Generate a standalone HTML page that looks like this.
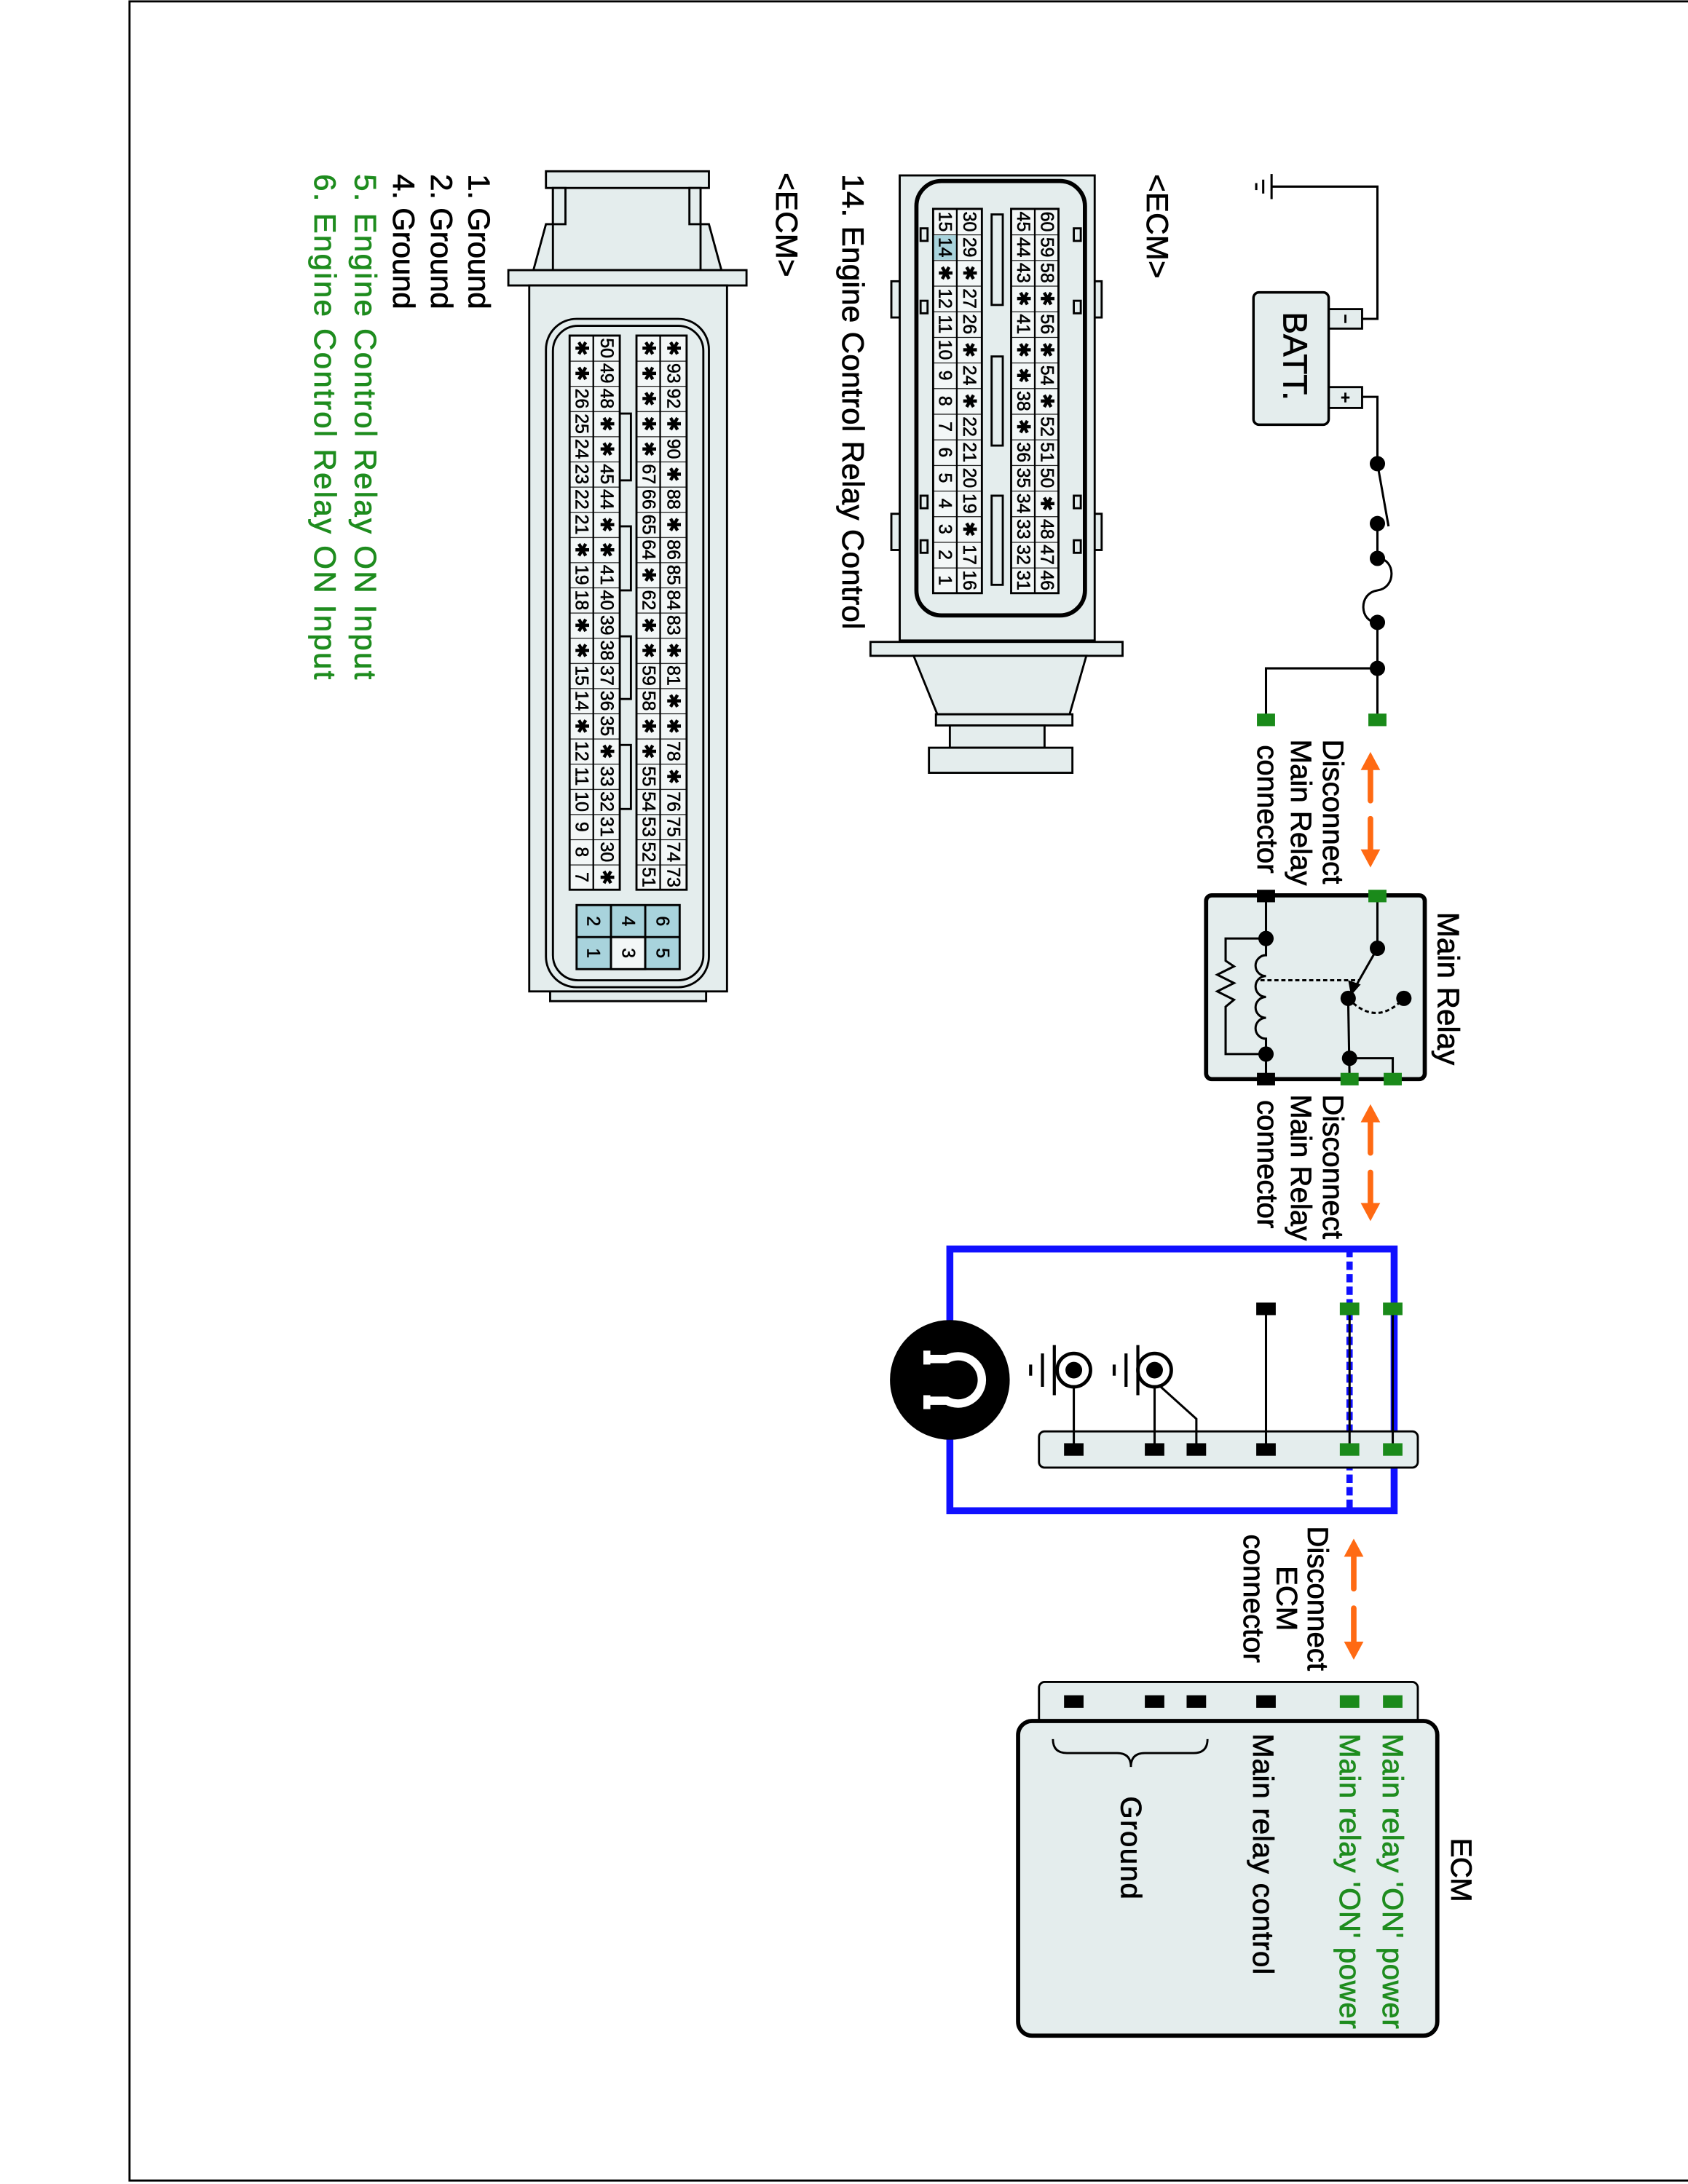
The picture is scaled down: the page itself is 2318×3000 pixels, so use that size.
<!DOCTYPE html>
<html><head><meta charset="utf-8"><style>html,body{margin:0;padding:0;background:#fff}svg{display:block}</style></head>
<body>
<svg xmlns="http://www.w3.org/2000/svg" width="2318" height="3000" viewBox="0 0 1212 1568.5" preserveAspectRatio="none" font-family="'Liberation Sans', Arial, sans-serif">
<defs>
<pattern id="p1" x="0" y="150" width="20" height="18.4" patternUnits="userSpaceOnUse"><rect width="20" height="18.4" fill="#f3f7f7"/><line x1="0" y1="0" x2="20" y2="0" stroke="#000" stroke-width="1.2"/></pattern>
<pattern id="p2" x="0" y="241" width="20" height="18.09" patternUnits="userSpaceOnUse"><rect width="20" height="18.09" fill="#f3f7f7"/><line x1="0" y1="0" x2="20" y2="0" stroke="#000" stroke-width="1.2"/></pattern>
</defs>
<rect x="93" y="1" width="1130" height="1565" fill="none" stroke="#000" stroke-width="1.5"/>

<!-- ===== Connector 1 (top) ===== -->
<g stroke="#000" stroke-width="1.5" fill="#e4eded">
<rect x="640" y="202" width="8" height="26"/><rect x="640" y="369" width="8" height="26"/>
<rect x="784" y="202" width="7" height="26"/><rect x="784" y="369" width="7" height="26"/>
<rect x="646" y="126" width="140" height="334"/>
<rect x="625" y="461" width="181" height="10"/>
<polygon points="656,471 780,471 768,513 673,513"/>
<rect x="672" y="513" width="98" height="8"/>
<rect x="682" y="521" width="68" height="16"/>
<rect x="667" y="537" width="103" height="18"/>
<rect x="658" y="130" width="121" height="312" rx="18" stroke-width="3"/>
<rect x="661" y="164" width="5" height="9"/><rect x="661" y="216" width="5" height="9"/><rect x="661" y="356" width="5" height="9"/><rect x="661" y="388" width="5" height="9"/>
<rect x="771" y="164" width="5" height="9"/><rect x="771" y="216" width="5" height="9"/><rect x="771" y="356" width="5" height="9"/><rect x="771" y="388" width="5" height="9"/>
<rect x="712" y="154" width="8" height="65"/><rect x="712" y="256" width="8" height="64"/><rect x="712" y="356" width="8" height="64"/>
</g>
<rect x="670" y="150" width="35" height="276" fill="url(#p1)" stroke="#000" stroke-width="1.5"/>
<rect x="726" y="150" width="34" height="276" fill="url(#p1)" stroke="#000" stroke-width="1.5"/>
<rect x="670.7" y="169" width="16" height="17.6" fill="#a8d3dc"/>
<line x1="687" y1="150" x2="687" y2="426" stroke="#000" stroke-width="1.2"/>
<line x1="743" y1="150" x2="743" y2="426" stroke="#000" stroke-width="1.2"/>
<g font-size="13" text-anchor="middle" dominant-baseline="central" fill="#000" stroke="#000" stroke-width="0.3">
<text transform="translate(678.5,0) rotate(90)"><tspan x="159.2" y="0">15</tspan><tspan x="177.6" y="0">14</tspan><tspan x="196" y="0">✱</tspan><tspan x="214.4" y="0">12</tspan><tspan x="232.8" y="0">11</tspan><tspan x="251.2" y="0">10</tspan><tspan x="269.6" y="0">9</tspan><tspan x="288" y="0">8</tspan><tspan x="306.4" y="0">7</tspan><tspan x="324.8" y="0">6</tspan><tspan x="343.2" y="0">5</tspan><tspan x="361.6" y="0">4</tspan><tspan x="380" y="0">3</tspan><tspan x="398.4" y="0">2</tspan><tspan x="416.8" y="0">1</tspan></text>
<text transform="translate(696,0) rotate(90)"><tspan x="159.2" y="0">30</tspan><tspan x="177.6" y="0">29</tspan><tspan x="196" y="0">✱</tspan><tspan x="214.4" y="0">27</tspan><tspan x="232.8" y="0">26</tspan><tspan x="251.2" y="0">✱</tspan><tspan x="269.6" y="0">24</tspan><tspan x="288" y="0">✱</tspan><tspan x="306.4" y="0">22</tspan><tspan x="324.8" y="0">21</tspan><tspan x="343.2" y="0">20</tspan><tspan x="361.6" y="0">19</tspan><tspan x="380" y="0">✱</tspan><tspan x="398.4" y="0">17</tspan><tspan x="416.8" y="0">16</tspan></text>
<text transform="translate(734.5,0) rotate(90)"><tspan x="159.2" y="0">45</tspan><tspan x="177.6" y="0">44</tspan><tspan x="196" y="0">43</tspan><tspan x="214.4" y="0">✱</tspan><tspan x="232.8" y="0">41</tspan><tspan x="251.2" y="0">✱</tspan><tspan x="269.6" y="0">✱</tspan><tspan x="288" y="0">38</tspan><tspan x="306.4" y="0">✱</tspan><tspan x="324.8" y="0">36</tspan><tspan x="343.2" y="0">35</tspan><tspan x="361.6" y="0">34</tspan><tspan x="380" y="0">33</tspan><tspan x="398.4" y="0">32</tspan><tspan x="416.8" y="0">31</tspan></text>
<text transform="translate(751.5,0) rotate(90)"><tspan x="159.2" y="0">60</tspan><tspan x="177.6" y="0">59</tspan><tspan x="196" y="0">58</tspan><tspan x="214.4" y="0">✱</tspan><tspan x="232.8" y="0">56</tspan><tspan x="251.2" y="0">✱</tspan><tspan x="269.6" y="0">54</tspan><tspan x="288" y="0">✱</tspan><tspan x="306.4" y="0">52</tspan><tspan x="324.8" y="0">51</tspan><tspan x="343.2" y="0">50</tspan><tspan x="361.6" y="0">✱</tspan><tspan x="380" y="0">48</tspan><tspan x="398.4" y="0">47</tspan><tspan x="416.8" y="0">46</tspan></text>
</g>

<!-- ===== Connector 2 (bottom-left) ===== -->
<g stroke="#000" stroke-width="1.5" fill="#e4eded">
<polygon points="383,194 392,161 401,161 401,194"/>
<polygon points="518,194 509,161 500,161 500,194"/>
<rect x="397" y="134" width="106" height="60"/>
<rect x="392" y="123" width="117" height="12"/>
<rect x="397" y="135" width="9" height="26"/><rect x="495" y="135" width="8" height="26"/>
<rect x="365" y="194" width="171" height="11"/>
<rect x="395" y="705" width="112" height="14"/>
<rect x="380" y="205" width="142" height="507"/>
<rect x="392" y="229" width="117" height="480" rx="22"/>
<rect x="397" y="234" width="108" height="470" rx="18"/>
<rect x="445" y="297" width="8" height="48"/><rect x="445" y="378" width="8" height="46"/><rect x="445" y="457" width="8" height="45"/><rect x="445" y="535" width="8" height="46"/>
</g>
<rect x="409" y="241" width="36" height="398" fill="url(#p2)" stroke="#000" stroke-width="1.5"/>
<rect x="457" y="241" width="36" height="398" fill="url(#p2)" stroke="#000" stroke-width="1.5"/>
<line x1="426" y1="241" x2="426" y2="639" stroke="#000" stroke-width="1.2"/>
<line x1="474" y1="241" x2="474" y2="639" stroke="#000" stroke-width="1.2"/>
<g font-size="13" text-anchor="middle" dominant-baseline="central" fill="#000" stroke="#000" stroke-width="0.3">
<text transform="translate(417.5,0) rotate(90)"><tspan x="250" y="0">✱</tspan><tspan x="268.1" y="0">✱</tspan><tspan x="286.2" y="0">26</tspan><tspan x="304.3" y="0">25</tspan><tspan x="322.4" y="0">24</tspan><tspan x="340.5" y="0">23</tspan><tspan x="358.6" y="0">22</tspan><tspan x="376.7" y="0">21</tspan><tspan x="394.8" y="0">✱</tspan><tspan x="412.9" y="0">19</tspan><tspan x="431" y="0">18</tspan><tspan x="449" y="0">✱</tspan><tspan x="467.1" y="0">✱</tspan><tspan x="485.2" y="0">15</tspan><tspan x="503.3" y="0">14</tspan><tspan x="521.4" y="0">✱</tspan><tspan x="539.5" y="0">12</tspan><tspan x="557.6" y="0">11</tspan><tspan x="575.7" y="0">10</tspan><tspan x="593.8" y="0">9</tspan><tspan x="611.9" y="0">8</tspan><tspan x="630" y="0">7</tspan></text>
<text transform="translate(435.5,0) rotate(90)"><tspan x="250" y="0">50</tspan><tspan x="268.1" y="0">49</tspan><tspan x="286.2" y="0">48</tspan><tspan x="304.3" y="0">✱</tspan><tspan x="322.4" y="0">✱</tspan><tspan x="340.5" y="0">45</tspan><tspan x="358.6" y="0">44</tspan><tspan x="376.7" y="0">✱</tspan><tspan x="394.8" y="0">✱</tspan><tspan x="412.9" y="0">41</tspan><tspan x="431" y="0">40</tspan><tspan x="449" y="0">39</tspan><tspan x="467.1" y="0">38</tspan><tspan x="485.2" y="0">37</tspan><tspan x="503.3" y="0">36</tspan><tspan x="521.4" y="0">35</tspan><tspan x="539.5" y="0">✱</tspan><tspan x="557.6" y="0">33</tspan><tspan x="575.7" y="0">32</tspan><tspan x="593.8" y="0">31</tspan><tspan x="611.9" y="0">30</tspan><tspan x="630" y="0">✱</tspan></text>
<text transform="translate(465.5,0) rotate(90)"><tspan x="250" y="0">✱</tspan><tspan x="268.1" y="0">✱</tspan><tspan x="286.2" y="0">✱</tspan><tspan x="304.3" y="0">✱</tspan><tspan x="322.4" y="0">✱</tspan><tspan x="340.5" y="0">67</tspan><tspan x="358.6" y="0">66</tspan><tspan x="376.7" y="0">65</tspan><tspan x="394.8" y="0">64</tspan><tspan x="412.9" y="0">✱</tspan><tspan x="431" y="0">62</tspan><tspan x="449" y="0">✱</tspan><tspan x="467.1" y="0">✱</tspan><tspan x="485.2" y="0">59</tspan><tspan x="503.3" y="0">58</tspan><tspan x="521.4" y="0">✱</tspan><tspan x="539.5" y="0">✱</tspan><tspan x="557.6" y="0">55</tspan><tspan x="575.7" y="0">54</tspan><tspan x="593.8" y="0">53</tspan><tspan x="611.9" y="0">52</tspan><tspan x="630" y="0">51</tspan></text>
<text transform="translate(483.5,0) rotate(90)"><tspan x="250" y="0">✱</tspan><tspan x="268.1" y="0">93</tspan><tspan x="286.2" y="0">92</tspan><tspan x="304.3" y="0">✱</tspan><tspan x="322.4" y="0">90</tspan><tspan x="340.5" y="0">✱</tspan><tspan x="358.6" y="0">88</tspan><tspan x="376.7" y="0">✱</tspan><tspan x="394.8" y="0">86</tspan><tspan x="412.9" y="0">85</tspan><tspan x="431" y="0">84</tspan><tspan x="449" y="0">83</tspan><tspan x="467.1" y="0">✱</tspan><tspan x="485.2" y="0">81</tspan><tspan x="503.3" y="0">✱</tspan><tspan x="521.4" y="0">✱</tspan><tspan x="539.5" y="0">78</tspan><tspan x="557.6" y="0">✱</tspan><tspan x="575.7" y="0">76</tspan><tspan x="593.8" y="0">75</tspan><tspan x="611.9" y="0">74</tspan><tspan x="630" y="0">73</tspan></text>
</g>
<g stroke="#000" stroke-width="1.5">
<rect x="414" y="650" width="74" height="46" fill="#a8d3dc"/>
<rect x="438.7" y="673" width="24.6" height="23" fill="#f3f7f7"/>
<line x1="438.7" y1="650" x2="438.7" y2="696"/><line x1="463.3" y1="650" x2="463.3" y2="696"/><line x1="414" y1="673" x2="488" y2="673"/>
</g>
<g font-size="13" text-anchor="middle" dominant-baseline="central" stroke="#000" stroke-width="0.3">
<text transform="translate(426,661.5) rotate(90)">2</text><text transform="translate(451,661.5) rotate(90)">4</text><text transform="translate(475.5,661.5) rotate(90)">6</text>
<text transform="translate(426,684.5) rotate(90)">1</text><text transform="translate(451,684.5) rotate(90)">3</text><text transform="translate(475.5,684.5) rotate(90)">5</text>
</g>

<!-- Labels left -->
<g font-size="22" dominant-baseline="central" stroke="currentColor" stroke-width="0.4">
<text transform="translate(831,125) rotate(90)" textLength="75">&lt;ECM&gt;</text>
<text transform="translate(612.5,125) rotate(90)" textLength="327">14. Engine Control Relay Control</text>
<text transform="translate(565,124) rotate(90)" textLength="75">&lt;ECM&gt;</text>
<text transform="translate(344,125) rotate(90)" textLength="97">1. Ground</text>
<text transform="translate(317,125) rotate(90)" textLength="97">2. Ground</text>
<text transform="translate(290,125) rotate(90)" textLength="97">4. Ground</text>
<text transform="translate(262.5,125) rotate(90)" textLength="363" fill="#1e8c1e" stroke="#1e8c1e">5. Engine Control Relay ON Input</text>
<text transform="translate(233.5,125) rotate(90)" textLength="363" fill="#1e8c1e" stroke="#1e8c1e">6. Engine Control Relay ON Input</text>
</g>

<!-- ===== Battery circuit ===== -->
<g stroke="#000" stroke-width="1.6" fill="none">
<line x1="913" y1="125" x2="913" y2="143"/><line x1="907" y1="129" x2="907" y2="139"/><line x1="902" y1="131.5" x2="902" y2="136.5"/>
<polyline points="913,134 989,134 989,229 978,229"/>
<polyline points="978,285 989,285 989,333"/>
<line x1="989" y1="333" x2="997" y2="378"/>
<line x1="989" y1="376" x2="989" y2="401"/>
<path d="M989,401 C1002,401 1003,422 989,424 C975,426 976,447 989,447"/>
<line x1="989" y1="447" x2="989" y2="517"/>
<polyline points="989,480 909,480 909,517"/>
</g>
<rect x="954" y="222" width="24" height="14" fill="#e4eded" stroke="#000" stroke-width="1.5"/>
<rect x="954" y="278" width="24" height="15" fill="#e4eded" stroke="#000" stroke-width="1.5"/>
<line x1="966" y1="226" x2="966" y2="232" stroke="#000" stroke-width="1.5"/>
<line x1="966" y1="282" x2="966" y2="289" stroke="#000" stroke-width="1.5"/><line x1="963" y1="285.5" x2="969" y2="285.5" stroke="#000" stroke-width="1.5"/>
<rect x="900" y="210" width="54" height="95" rx="4" fill="#e4eded" stroke="#000" stroke-width="1.8"/>
<text transform="translate(930,224) rotate(90)" font-size="24" dominant-baseline="central" stroke="#000" stroke-width="0.4">BATT.</text>
<g fill="#000"><circle cx="989" cy="333" r="5.5"/><circle cx="989" cy="376" r="5.5"/><circle cx="989" cy="401" r="5.5"/><circle cx="989" cy="447" r="5.5"/><circle cx="989" cy="480" r="5.5"/></g>
<rect x="982.5" y="512.5" width="13" height="9" fill="#1a8a1a"/><rect x="902.5" y="512.5" width="13" height="9" fill="#1a8a1a"/>

<!-- orange arrows -->
<g stroke="#ff6a13" stroke-width="4" stroke-linecap="round" fill="#ff6a13">
<line x1="984" y1="552" x2="984" y2="575"/><line x1="984" y1="588" x2="984" y2="610"/>
<line x1="984" y1="805" x2="984" y2="828"/><line x1="984" y1="842" x2="984" y2="865"/>
<line x1="972" y1="1117" x2="972" y2="1141"/><line x1="972" y1="1155" x2="972" y2="1180"/>
</g>
<g fill="#ff6a13">
<polygon points="984,540 977,553 991,553"/><polygon points="984,623 977,610 991,610"/>
<polygon points="984,793 977,806 991,806"/><polygon points="984,877 977,864 991,864"/>
<polygon points="972,1105 965,1118 979,1118"/><polygon points="972,1192 965,1179 979,1179"/>
</g>
<g font-size="21" dominant-baseline="central" stroke="#000" stroke-width="0.4">
<text transform="translate(957,531) rotate(90)">Disconnect</text>
<text transform="translate(934,531) rotate(90)">Main Relay</text>
<text transform="translate(910,535) rotate(90)">connector</text>
<text transform="translate(957,786) rotate(90)">Disconnect</text>
<text transform="translate(934,786) rotate(90)">Main Relay</text>
<text transform="translate(910,790) rotate(90)">connector</text>
<text transform="translate(946,1148) rotate(90)" text-anchor="middle">Disconnect</text>
<text transform="translate(924,1148) rotate(90)" text-anchor="middle">ECM</text>
<text transform="translate(900,1148) rotate(90)" text-anchor="middle">connector</text>
<text transform="translate(1040,655) rotate(90)" font-size="22">Main Relay</text>
</g>

<!-- ===== Main relay ===== -->
<rect x="866" y="643" width="157" height="132" rx="4" fill="#e4eded" stroke="#000" stroke-width="3"/>
<g stroke="#000" stroke-width="1.6" fill="none">
<line x1="989" y1="643" x2="989" y2="681"/>
<line x1="989" y1="681" x2="973" y2="709"/>
<line x1="968" y1="717" x2="969" y2="775"/>
<polyline points="969,760 1000,760 1000,775"/>
<path d="M968,717 Q988,738 1008,717" stroke-dasharray="3 2"/>
<path d="M909,643 L909,686 A7.5,7.5 0 0 0 909,701 A7.5,7.5 0 0 0 909,716 A7.5,7.5 0 0 0 909,731 A7.5,7.5 0 0 0 909,746 L909,775"/>
<line x1="905" y1="704" x2="976" y2="704" stroke-dasharray="3 2"/>
<polyline points="909,674 880,674 880,690 886,694 874,700 886,706 874,712 886,718 880,723 880,757 909,757"/>
</g>
<polygon points="970,715 968,704 977,707" fill="#000"/>
<g fill="#000"><circle cx="989" cy="681" r="5.5"/><circle cx="968" cy="717" r="5.5"/><circle cx="1008" cy="717" r="5.5"/><circle cx="969" cy="760" r="5.5"/><circle cx="909" cy="674" r="5.5"/><circle cx="909" cy="757" r="5.5"/>
<rect x="902.5" y="639" width="13" height="9"/><rect x="902.5" y="770.5" width="13" height="9"/></g>
<g fill="#1a8a1a"><rect x="982.5" y="639" width="13" height="9"/><rect x="962.5" y="770.5" width="13" height="9"/><rect x="993.5" y="770.5" width="13" height="9"/></g>

<!-- ===== Blue box ===== -->
<rect x="682" y="897" width="319" height="188" fill="none" stroke="#1010ff" stroke-width="5"/>
<line x1="969" y1="897" x2="969" y2="1085" stroke="#1010ff" stroke-width="4.5" stroke-dasharray="6 3"/>
<circle cx="682" cy="991" r="43" fill="#000"/>
<path d="M666,976 L680,976 A17,17 0 1,1 680,1006 L666,1006" fill="none" stroke="#fff" stroke-width="6"/>
<rect x="663" y="970" width="5" height="10" fill="#fff"/><rect x="663" y="1002" width="5" height="10" fill="#fff"/>
<rect x="746" y="1028" width="272" height="26" rx="4" fill="#e4eded" stroke="#000" stroke-width="1.5"/>
<g stroke="#000" stroke-width="1.6" fill="none">
<line x1="909" y1="940" x2="909" y2="1041"/><line x1="969" y1="940" x2="969" y2="1041"/><line x1="1000" y1="940" x2="1000" y2="1041"/>
<line x1="771" y1="996" x2="771" y2="1041"/><line x1="829" y1="996" x2="829" y2="1041"/>
<polyline points="829,992 859,1019 859,1041"/>
<line x1="757" y1="966" x2="757" y2="1002" stroke-width="2.2"/><line x1="748.5" y1="972" x2="748.5" y2="996" stroke-width="2.2"/><line x1="740" y1="980" x2="740" y2="988" stroke-width="2.2"/>
<line x1="757" y1="984" x2="759" y2="984"/>
<line x1="817" y1="966" x2="817" y2="1002" stroke-width="2.2"/><line x1="808.5" y1="972" x2="808.5" y2="996" stroke-width="2.2"/><line x1="800" y1="980" x2="800" y2="988" stroke-width="2.2"/>
<circle cx="771" cy="984" r="12" fill="#fff" stroke-width="2.5"/><circle cx="829" cy="984" r="12" fill="#fff" stroke-width="2.5"/>
</g>
<circle cx="771" cy="984" r="6" fill="#000"/><circle cx="829" cy="984" r="6" fill="#000"/>
<g fill="#000"><rect x="902" y="935.5" width="14" height="9"/><rect x="764" y="1036.5" width="14" height="9"/><rect x="822" y="1036.5" width="14" height="9"/><rect x="852" y="1036.5" width="14" height="9"/><rect x="902" y="1036.5" width="14" height="9"/></g>
<g fill="#1a8a1a"><rect x="962" y="935.5" width="14" height="9"/><rect x="993" y="935.5" width="14" height="9"/><rect x="962" y="1036.5" width="14" height="9"/><rect x="993" y="1036.5" width="14" height="9"/></g>

<!-- ===== ECM ===== -->
<rect x="746" y="1208" width="272" height="30" rx="4" fill="#e4eded" stroke="#000" stroke-width="1.5"/>
<rect x="731" y="1236" width="301" height="226" rx="10" fill="#e4eded" stroke="#000" stroke-width="3"/>
<g fill="#000"><rect x="764" y="1217.5" width="14" height="9"/><rect x="822" y="1217.5" width="14" height="9"/><rect x="852" y="1217.5" width="14" height="9"/><rect x="902" y="1217.5" width="14" height="9"/></g>
<g fill="#1a8a1a"><rect x="962" y="1217.5" width="14" height="9"/><rect x="993" y="1217.5" width="14" height="9"/></g>
<path d="M756,1249 Q756,1259 766,1259 L802,1259 Q812,1259 812,1269 Q812,1259 822,1259 L857,1259 Q867,1259 867,1249" fill="none" stroke="#000" stroke-width="1.5"/>
<g font-size="21" dominant-baseline="central" stroke="currentColor" stroke-width="0.4">
<text transform="translate(1049,1320) rotate(90)" textLength="46">ECM</text>
<text transform="translate(1000,1245) rotate(90)" fill="#1e8c1e" stroke="#1e8c1e" textLength="212">Main relay 'ON' power</text>
<text transform="translate(969,1245) rotate(90)" fill="#1e8c1e" stroke="#1e8c1e" textLength="212">Main relay 'ON' power</text>
<text transform="translate(907,1245) rotate(90)" textLength="173">Main relay control</text>
<text transform="translate(812,1290) rotate(90)" textLength="74">Ground</text>
</g>
</svg>
</body></html>
